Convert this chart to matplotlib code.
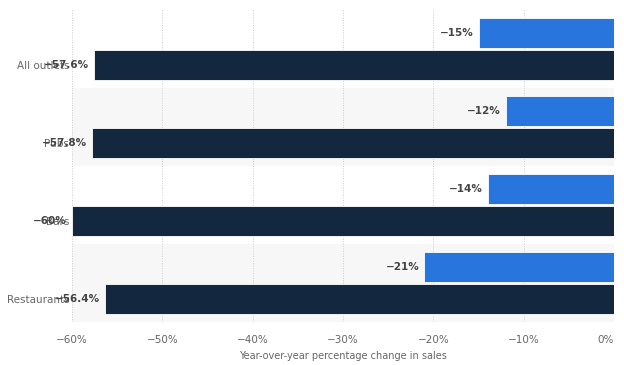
import numpy as np
import matplotlib.pyplot as plt

# Data
categories = ['All outlets', 'Pubs', 'Bars', 'Restaurants']
recent = [-15, -12, -14, -21]          # light blue bars
earlier = [-57.6, -57.8, -60, -56.4]   # dark navy bars
recent_labels = ['\u221215%', '\u221212%', '\u221214%', '\u221221%']
earlier_labels = ['\u221257.6%', '\u221257.8%', '\u221260%', '\u221256.4%']
ticks = [-60, -50, -40, -30, -20, -10, 0]
tick_labels = ['\u221260%', '\u221250%', '\u221240%', '\u221230%', '\u221220%', '\u221210%', '0%']

blue = '#2876dd'
navy = '#13273e'
text_gray = '#666666'

fig = plt.figure(figsize=(6.24, 3.65), dpi=100)
ax = fig.add_axes([0.1154, 0.1178, 0.8686, 0.855])

y = np.arange(len(categories))
h = 0.385
off = 0.205

# alternating band shading
for i in y:
    if i % 2 == 1:
        ax.axhspan(i - 0.5, i + 0.5, color='#f7f7f7', zorder=0, lw=0)

ax.barh(y - off, recent, height=h, color=blue, edgecolor='white', linewidth=0.6, zorder=3)
ax.barh(y + off, earlier, height=h, color=navy, edgecolor='white', linewidth=0.6, zorder=3)

for i in y:
    ax.text(recent[i] - 0.55, i - off, recent_labels[i], ha='right', va='center',
            fontsize=7.5, fontweight='bold', color='#444444', zorder=4)
    ax.text(earlier[i] - 0.55, i + off, earlier_labels[i], ha='right', va='center',
            fontsize=7.5, fontweight='bold', color='#444444', zorder=4)

ax.set_xlim(-60, 0)
ax.set_ylim(3.5, -0.5)
ax.set_xticks(ticks)
ax.set_xticklabels(tick_labels, fontsize=7.5, color=text_gray)
ax.get_xticklabels()[-1].set_horizontalalignment('right')
ax.set_yticks(y + off)
ax.set_yticklabels(categories, fontsize=7.5, color=text_gray)
ax.tick_params(axis='both', length=0)
ax.tick_params(axis='x', pad=9)
ax.tick_params(axis='y', pad=2)

ax.grid(axis='x', linestyle=(0, (1, 1.5)), color='#cccccc', linewidth=0.7, zorder=1)
ax.set_axisbelow(True)
for s in ax.spines.values():
    s.set_visible(False)

ax.set_xlabel('Year-over-year percentage change in sales', fontsize=7, color=text_gray, labelpad=5)

fig.savefig('out.png', dpi=100)
